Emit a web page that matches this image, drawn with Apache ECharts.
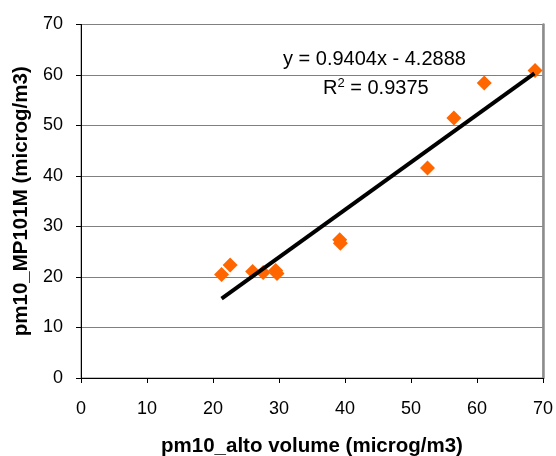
<!DOCTYPE html>
<html>
<head>
<meta charset="utf-8">
<script src="https://cdn.jsdelivr.net/npm/echarts@6/dist/echarts.min.js"></script>
<style>
html, body { margin: 0; padding: 0; background: #fff; }
#chart { width: 556px; height: 456px; }
</style>
</head>
<body>
<div id="chart"></div>
<script>
// pm10 measurements: alto volume (x) vs MP101M (y)
const altoVolume = [21.3, 22.6, 26.0, 27.6, 29.5, 29.7, 39.2, 39.3, 52.5, 56.5, 61.1, 68.8];
const mp101m = [20.5, 22.4, 21.1, 20.9, 21.3, 20.7, 27.4, 26.7, 41.6, 51.5, 58.4, 60.9];
// linear trend shown on the chart
const slope = 0.9404;
const intercept = -4.2888;
const trendRange = [21.3, 68.7];
const axisTicks = [0, 10, 20, 30, 40, 50, 60, 70];

const points = altoVolume.map((x, i) => [x, mp101m[i]]);
const trend = trendRange.map(x => [x, slope * x + intercept]);

const font = 'Liberation Sans, Arial, sans-serif';
const axMin = axisTicks[0];
const axMax = axisTicks[axisTicks.length - 1];
const chart = echarts.init(document.getElementById('chart'));
chart.setOption({
  animation: false,
  backgroundColor: '#fff',
  grid: {
    left: 81, right: 13, top: 24.5, bottom: 78,
    outerBoundsMode: 'none',
    show: true, borderColor: '#808080', borderWidth: 1
  },
  xAxis: {
    type: 'value',
    min: axMin, max: axMax, interval: 10,
    name: 'pm10_alto volume (microg/m3)',
    nameLocation: 'middle',
    nameGap: 58,
    nameTextStyle: { fontFamily: font, fontSize: 20.5, fontWeight: 'bold', color: '#000' },
    axisLine: { lineStyle: { color: '#000', width: 1 } },
    axisTick: { show: true, length: 5, lineStyle: { color: '#000' } },
    axisLabel: { fontFamily: font, fontSize: 18, color: '#000', margin: 22 },
    splitLine: { show: false }
  },
  yAxis: [
    {
      type: 'value',
      min: axMin, max: axMax, interval: 10,
      name: 'pm10_MP101M (microg/m3)',
      nameLocation: 'middle',
      nameGap: 45,
      nameTextStyle: { fontFamily: font, fontSize: 20.5, fontWeight: 'bold', color: '#000' },
      axisLine: { show: true, lineStyle: { color: '#000', width: 1 } },
      axisTick: { show: true, length: 5, lineStyle: { color: '#000' } },
      axisLabel: { fontFamily: font, fontSize: 18, color: '#000', margin: 18 },
      splitLine: { show: true, lineStyle: { color: '#808080', width: 1 } }
    },
    {
      // right edge of the plot area (thicker grey frame)
      type: 'value',
      position: 'right',
      min: axMin, max: axMax, interval: 10,
      axisLine: { show: true, lineStyle: { color: '#8c8c8c', width: 2.5 } },
      axisTick: { show: false },
      axisLabel: { show: false },
      splitLine: { show: false }
    }
  ],
  series: [
    {
      type: 'scatter',
      data: points,
      symbol: 'diamond',
      symbolSize: 15,
      itemStyle: { color: '#FF6600', opacity: 1 },
      z: 2
    },
    {
      type: 'line',
      data: trend,
      symbol: 'none',
      lineStyle: { color: '#000', width: 4 },
      z: 3
    }
  ],
  graphic: [
    {
      type: 'text', left: 283, top: 49,
      style: { text: 'y = 0.9404x - 4.2888', font: '20px ' + font, fill: '#000' }
    },
    {
      type: 'text', left: 323, top: 77,
      style: {
        text: 'R{sup|2} = 0.9375',
        font: '20px ' + font, fill: '#000',
        rich: { sup: { fontSize: 13, fontFamily: font, verticalAlign: 'top', padding: [0, 0, 9, 0] } }
      }
    }
  ]
});
</script>
</body>
</html>
